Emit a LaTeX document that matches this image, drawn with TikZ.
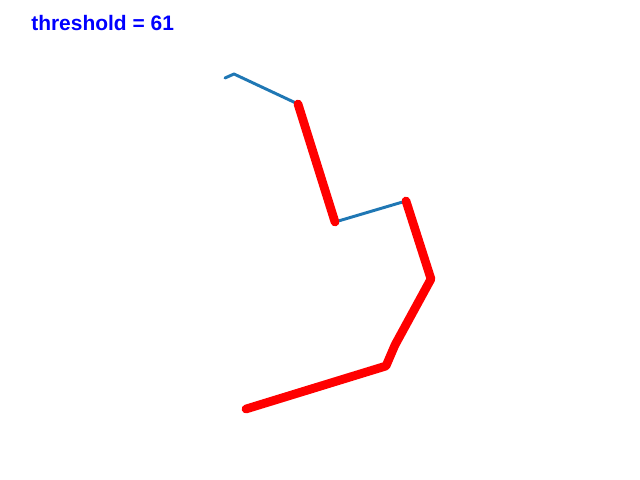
\documentclass[tikz,border=0pt]{standalone}
\usepackage{fontspec}
\setmainfont{Liberation Sans}
\usetikzlibrary{positioning}
\definecolor{segblue}{RGB}{31,119,180}
\tikzset{
	fine/.style={segblue, line width=2.1pt, line cap=round, line join=round},
	thick seg/.style={red, line width=6.2pt, line cap=round, line join=round},
	label text/.style={text=blue, font=\bfseries\fontsize{14.9}{17}\selectfont, inner sep=0pt, anchor=base west},
}

\begin{document}
\begin{tikzpicture}[x=0.025cm, y=-0.025cm]
	\useasboundingbox (0,0) rectangle (640,480);
	%% label
	\node[label text] (thr) at (31,31) {threshold = 61};
	%% points
	\coordinate (p0) at (225,78);
	\coordinate (p1) at (234,74);
	\coordinate (p2) at (298,104);
	\coordinate (p3) at (335,222);
	\coordinate (p4) at (406,201);
	\coordinate (p5) at (431,279);
	\coordinate (p6) at (395,345);
	\coordinate (p7) at (386,366);
	\coordinate (p8) at (246,409);
	% thin pieces
	\draw[fine] (p0) -- (p1) -- (p2);
	\draw[fine] (p3) -- (p4);
	% thick pieces
	\draw[thick seg] (p2) -- (p3);
	\draw[thick seg] (p4) -- (p5) -- (p6) -- (p7) -- (p8);
\end{tikzpicture}
\end{document}
